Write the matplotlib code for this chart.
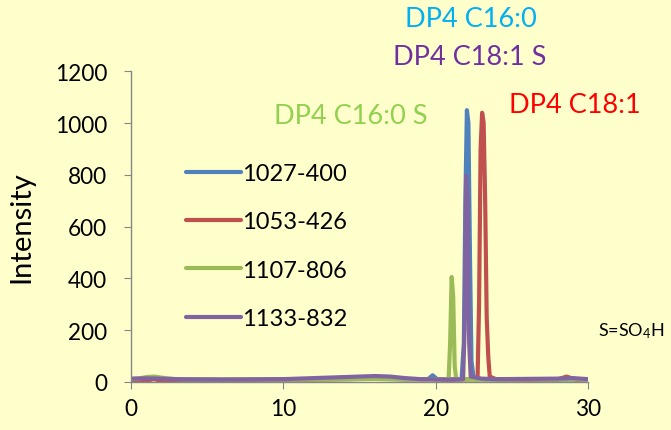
import matplotlib.pyplot as plt

plt.rcParams['font.family'] = ['Lato', 'DejaVu Sans']
plt.rcParams['mathtext.default'] = 'regular'

# retention time (min) / intensity
blue_t = [0, 1, 2, 3, 4, 5, 6, 8, 10, 12, 14, 16, 18, 19.5, 19.8, 20.1, 21, 21.7,
          21.85, 21.95, 22.05, 22.15, 22.25, 22.35, 22.5, 23, 24, 26, 28, 30]
blue_i = [10, 12, 10, 9, 8, 9, 8, 8, 9, 9, 10, 11, 9, 10, 25, 10, 9, 10,
          150, 700, 1050, 1000, 500, 80, 10, 9, 8, 9, 8, 9]

red_t = [0, 1, 1.5, 2, 3, 4, 6, 8, 10, 12, 14, 16, 18, 20, 21, 22, 22.75, 22.85,
         22.95, 23.05, 23.15, 23.25, 23.35, 23.45, 23.55, 24, 26, 28, 28.6, 29.2, 30]
red_i = [8, 4, 10, 3, 6, 8, 7, 8, 8, 9, 10, 12, 10, 9, 8, 9, 10, 300,
         900, 1040, 1000, 700, 250, 100, 20, 9, 8, 9, 20, 8, 10]

green_t = [0, 0.5, 1, 1.5, 2, 2.5, 3, 4, 6, 8, 10, 12, 14, 16, 18, 20, 20.85, 20.95,
           21.05, 21.15, 21.25, 21.35, 22, 24, 26, 28, 30]
green_i = [10, 12, 18, 20, 16, 12, 10, 9, 8, 9, 8, 9, 10, 11, 10, 9, 10, 150,
           405, 330, 60, 10, 9, 8, 10, 9, 10]

purple_t = [0, 1, 2, 3, 4, 6, 8, 10, 12, 14, 15, 16, 17, 18, 19, 20, 21, 21.8,
            21.9, 22.0, 22.1, 22.2, 22.3, 23, 24, 26, 28, 29, 30]
purple_i = [12, 13, 12, 10, 9, 8, 9, 10, 14, 18, 20, 22, 20, 14, 10, 9, 8, 10,
            200, 796, 700, 150, 20, 12, 10, 11, 12, 14, 10]

labels = ['1027-400', '1053-426', '1107-806', '1133-832']
colors = ['#4F81BD', '#C0504D', '#9BBB59', '#8064A2']

bg = '#FFFFCC'
fig = plt.figure(figsize=(6.71, 4.31), dpi=100, facecolor=bg)
ax = fig.add_axes([0.1952, 0.112, 0.6811, 0.7201], facecolor=bg)

series = [(blue_t, blue_i), (red_t, red_i), (green_t, green_i), (purple_t, purple_i)]
for (t, i), lab, c in zip(series, labels, colors):
    ax.plot(t, i, color=c, lw=3, label=lab, solid_capstyle='round', solid_joinstyle='round')

ax.set_xlim(0, 30)
ax.set_ylim(0, 1200)
ax.set_xticks([0, 10, 20, 30])
ax.set_yticks(range(0, 1201, 200))
for s in ['top', 'right']:
    ax.spines[s].set_visible(False)
for s in ['left', 'bottom']:
    ax.spines[s].set_color('#868686')
    ax.spines[s].set_linewidth(1)
ax.tick_params(colors='#868686', labelcolor='black', labelsize=16.3, length=5)
ax.tick_params(axis='y', pad=12)
ax.tick_params(axis='x', pad=7)
ax.set_ylabel('Intensity', fontsize=21, labelpad=15)

leg = ax.legend(loc='upper left', bbox_to_anchor=(0.26, 0.647), bbox_transform=fig.transFigure,
                frameon=False, fontsize=17, handlelength=2.33, handletextpad=0.05,
                labelspacing=1.16, borderpad=0)

fig.text(0.702, 0.955, 'DP4 C16:0', color='#00B0F0', fontsize=19.5, ha='center', va='center')
fig.text(0.700, 0.866, 'DP4 C18:1 S', color='#7030A0', fontsize=19.5, ha='center', va='center')
fig.text(0.857, 0.756, 'DP4 C18:1', color='#FF0000', fontsize=19.5, ha='center', va='center')
fig.text(0.522, 0.730, 'DP4 C16:0 S', color='#92D050', fontsize=19.5, ha='center', va='center')
fig.text(0.941, 0.232, 'S=SO$_4$H', color='black', fontsize=13, ha='center', va='center')

fig.savefig('out.png', dpi=100, facecolor=bg)
